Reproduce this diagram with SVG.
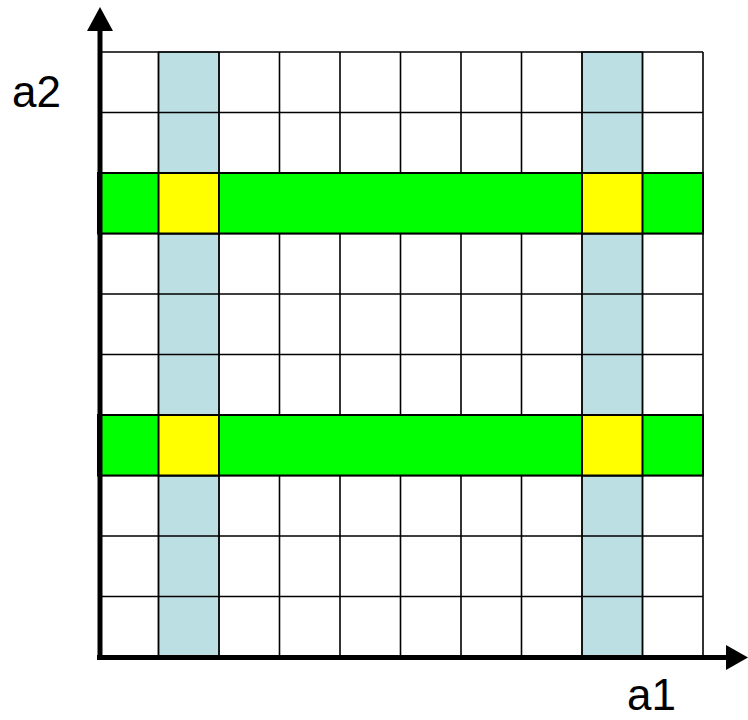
<svg xmlns="http://www.w3.org/2000/svg" width="748" height="720" viewBox="0 0 748 720">
<style>
.col{fill:#BCDFE3;stroke:#444;stroke-width:1.5}
.grid{stroke:#000;stroke-width:1.6;fill:none}
.band{fill:#00FF00;stroke:#000;stroke-width:2}
.cell{fill:#FFFF00;stroke:#000;stroke-width:2}
.axis{stroke:#000;stroke-width:5;fill:none}
.lbl{font-family:"Liberation Sans",Arial,sans-serif;font-size:44px;fill:#000}
</style>
<rect width="748" height="720" fill="#fff"/>
<g id="columns">
<rect class="col" x="158.5" y="52" width="60.5" height="605"/>
<rect class="col" x="582" y="52" width="60.5" height="605"/>
</g>
<g id="grid" class="grid">
<path d="M98 52H703M98 112.5H703M98 173H703M98 233.5H703M98 294H703M98 354.5H703M98 415H703M98 475.5H703M98 536H703M98 596.5H703"/>
<path d="M158.5 52V657M219 52V657M279.5 52V657M340 52V657M400.5 52V657M461 52V657M521.5 52V657M582 52V657M642.5 52V657M703 52V657"/>
</g>
<g id="band1">
<rect class="band" x="98" y="173" width="605" height="60.5"/>
<rect class="cell" x="158.5" y="173" width="60.5" height="60.5"/>
<rect class="cell" x="582" y="173" width="60.5" height="60.5"/>
</g>
<g id="band2">
<rect class="band" x="98" y="415" width="605" height="60.5"/>
<rect class="cell" x="158.5" y="415" width="60.5" height="60.5"/>
<rect class="cell" x="582" y="415" width="60.5" height="60.5"/>
</g>
<g id="axes">
<path class="axis" d="M100 660V28"/>
<polygon points="100,7 87,31 113,31" fill="#000"/>
<path class="axis" d="M97 657.5H729"/>
<polygon points="748,657.5 726,645 726,670" fill="#000"/>
</g>
<text class="lbl" x="12" y="107">a2</text>
<text class="lbl" x="627" y="710">a1</text>
</svg>
